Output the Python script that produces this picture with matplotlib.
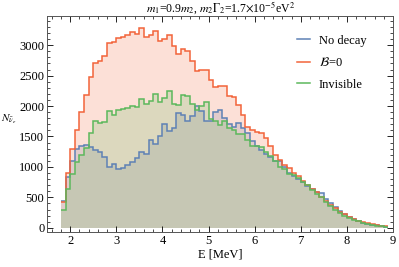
import matplotlib
matplotlib.use("Agg")
import matplotlib.pyplot as plt
import numpy as np
from matplotlib.ticker import MultipleLocator

# bin edges in MeV (0.1 MeV bins from 1.8 to 8.9)
edges = np.linspace(1.8, 8.9, 72)

no_decay = [
    440, 830, 1100, 1290, 1340, 1360, 1330, 1270, 1240, 1160,
    1000, 1050, 960, 990, 1030, 1080, 1140, 1250, 1220, 1440,
    1370, 1500, 1710, 1590, 1640, 1880, 1850, 1750, 1840, 2000,
    1920, 1760, 1760, 1900, 1930, 1800, 1700, 1650, 1720, 1640,
    1560, 1420, 1340, 1270, 1210, 1160, 1090, 1100, 1000, 900,
    850, 800, 750, 680, 640, 580, 570, 480, 410, 340,
    280, 220, 175, 140, 110, 86, 66, 50, 38, 28, 20,
]
b_zero = [
    420, 900, 1300, 1610, 1900, 2180, 2480, 2710, 2740, 2820,
    3030, 3050, 3120, 3140, 3160, 3210, 3190, 3280, 3140, 3160,
    3240, 3070, 3110, 3160, 2980, 2850, 2940, 2900, 2740, 2580,
    2600, 2600, 2430, 2320, 2330, 2330, 2160, 2150, 2010, 1850,
    1660, 1600, 1580, 1550, 1480, 1350, 1200, 1120, 1030, 980,
    900, 850, 770, 710, 640, 580, 500, 440, 380, 320,
    265, 220, 180, 148, 118, 92, 72, 56, 43, 32, 24,
]
invisible = [
    300, 640, 890, 1080, 1200, 1310, 1560, 1760, 1720, 1740,
    1920, 1850, 1930, 1950, 1970, 2000, 1990, 2120, 2040, 2080,
    2200, 2070, 2140, 2250, 2030, 2020, 2180, 2170, 2040, 1930,
    2000, 2060, 1780, 1750, 1690, 1750, 1640, 1600, 1540, 1540,
    1450, 1340, 1340, 1320, 1250, 1180, 1100, 1000, 960, 880,
    860, 820, 760, 700, 620, 560, 500, 420, 360, 300,
    250, 200, 165, 135, 105, 80, 62, 48, 36, 26, 18,
]

series = [
    ("No decay", no_decay, "#5e81b5"),
    (r"$\mathcal{B}$=0", b_zero, "#f2643a"),
    ("Invisible", invisible, "#5cb85c"),
]

plt.rcParams["font.family"] = ["Liberation Serif", "DejaVu Serif"]
plt.rcParams["mathtext.fontset"] = "stix"

fig = plt.figure(figsize=(3.99, 2.67), dpi=100)
ax = fig.add_axes([0.118, 0.131, 0.867, 0.809])

for label, vals, color in series:
    ax.stairs(vals, edges, baseline=0, fill=True, color=color, alpha=0.2, lw=0)
for label, vals, color in series:
    ax.stairs(vals, edges, baseline=None, color=color, lw=1.1, label=label)

ax.set_xlim(1.5, 9.0)
ax.set_ylim(-70, 3480)
ax.xaxis.set_major_locator(MultipleLocator(1))
ax.xaxis.set_minor_locator(MultipleLocator(0.2))
ax.yaxis.set_major_locator(MultipleLocator(500))
ax.yaxis.set_minor_locator(MultipleLocator(100))
ax.tick_params(which="both", direction="in", top=True, right=True, labelsize=9, pad=2)
ax.tick_params(which="major", length=4, width=0.6)
ax.tick_params(which="minor", length=2, width=0.5)
for s in ax.spines.values():
    s.set_linewidth(0.7)
    s.set_color("#555555")

ax.set_xlabel("E [MeV]", fontsize=9, labelpad=1)
ax.set_ylabel(r"$N_{\bar{\nu}_e}$", fontsize=8, rotation=0, ha="center", va="center")
ax.yaxis.set_label_coords(-0.11, 0.52)
ax.set_title(r"$m_1$=0.9$m_2$, $m_2\Gamma_2$=1.7$\times$10$^{-5}$eV$^2$",
             fontsize=8.5, pad=3)

ax.legend(loc="upper right", frameon=False, fontsize=9, handlelength=1.0,
          handletextpad=0.7, labelspacing=0.75, bbox_to_anchor=(0.955, 0.965))

fig.savefig("out.png", dpi=100)
